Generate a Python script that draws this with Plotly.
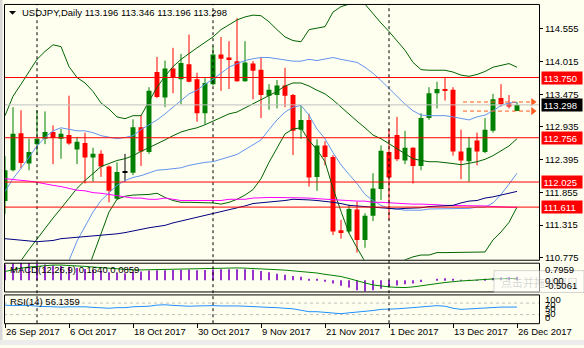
import plotly.graph_objects as go
import pandas as pd

W, H = 584, 348
BG = "#FFFFF0"
FONT = "Tahoma, 'Liberation Sans', Arial, sans-serif"
FS = 9.5

# Daily bars, 26 Sep - 26 Dec 2017 (no bar on 25 Dec)
dates = [d for d in pd.bdate_range("2017-09-26", "2017-12-26")
         if not (d.month == 12 and d.day == 25)]

open_ = [111.71, 112.22, 112.83, 112.33, 112.65, 112.74, 112.85, 112.74, 112.80, 112.56,
         112.67, 112.43, 112.49, 112.28, 111.75, 112.19, 112.18, 112.93, 112.52, 113.84,
         113.42, 113.90, 113.72, 113.97, 113.72, 113.16, 113.64, 114.13, 114.08, 114.02,
         113.69, 113.98, 113.88, 113.45, 113.46, 113.62, 113.46, 112.89, 113.05, 112.11,
         112.63, 112.44, 111.23, 111.21, 111.57, 111.07, 111.47, 111.91, 112.52, 112.80,
         112.38, 112.59, 112.29, 113.08, 113.49, 113.56, 113.55, 112.53, 112.37, 112.71,
         112.52, 112.87, 113.41, 113.32, 113.196]
high = [112.45, 113.26, 113.21, 112.74, 113.21, 113.19, 112.96, 112.90, 113.45, 112.77,
        112.84, 112.59, 112.55, 112.30, 112.35, 112.49, 113.06, 113.13, 113.59, 114.09,
        114.03, 114.24, 114.14, 114.46, 113.83, 113.74, 114.27, 114.42, 114.35, 114.73,
        114.35, 114.02, 114.09, 113.64, 113.71, 113.91, 113.48, 113.28, 113.15, 112.73,
        112.70, 112.47, 111.40, 111.65, 111.70, 111.51, 112.17, 112.63, 112.90, 113.10,
        112.87, 112.60, 113.16, 113.59, 113.68, 113.76, 113.59, 112.89, 112.77, 112.84,
        113.08, 113.48, 113.64, 113.46, 113.346]
low = [111.50, 112.20, 112.25, 112.22, 112.47, 112.65, 112.32, 112.41, 112.64, 112.32,
       112.00, 112.03, 112.11, 111.69, 111.73, 112.03, 112.14, 112.29, 112.49, 113.41,
       113.26, 113.49, 113.31, 113.67, 113.02, 112.98, 113.62, 113.53, 113.56, 113.68,
       113.68, 113.39, 113.08, 113.22, 113.24, 113.26, 112.47, 112.74, 111.95, 111.88,
       112.30, 111.15, 111.09, 111.18, 110.86, 110.94, 111.38, 111.73, 111.40, 112.37,
       112.32, 112.00, 112.22, 113.05, 113.24, 113.37, 112.46, 112.07, 112.03, 112.30,
       112.50, 112.84, 113.27, 113.24, 113.196]
close = [112.22, 112.82, 112.34, 112.52, 112.74, 112.85, 112.75, 112.82, 112.66, 112.69,
         112.43, 112.49, 112.28, 111.88, 112.19, 112.19, 112.93, 112.53, 113.53, 113.43,
         113.90, 113.75, 113.99, 113.68, 113.16, 113.66, 114.13, 114.06, 114.04, 113.69,
         114.00, 113.86, 113.46, 113.55, 113.62, 113.45, 112.87, 113.05, 112.10, 112.63,
         112.44, 111.21, 111.20, 111.58, 111.07, 111.47, 111.92, 112.54, 112.10, 112.40,
         112.59, 112.29, 113.08, 113.49, 113.56, 113.54, 112.53, 112.38, 112.59, 112.53,
         112.89, 113.39, 113.31, 113.27, 113.298]

# Bollinger bands (20): +/-2 dev and +/-1 dev around the middle line
bb_up2 = [113.12, 113.44, 113.64, 113.85, 114.05, 114.18, 114.29, 114.26, 113.93, 113.75,
          113.66, 113.52, 113.33, 113.23, 113.10, 113.07, 113.12, 113.12, 113.36, 113.59,
          113.77, 113.93, 114.05, 114.15, 114.24, 114.33, 114.42, 114.54, 114.62, 114.70,
          114.75, 114.78, 114.77, 114.67, 114.54, 114.42, 114.36, 114.34, 114.54, 114.57,
          114.59, 114.83, 114.92, 114.96, 114.98, 114.96, 114.80, 114.65, 114.51, 114.36,
          114.20, 114.00, 113.88, 113.87, 113.87, 113.87, 113.84, 113.79, 113.77, 113.80,
          113.85, 113.92, 113.95, 113.98, 113.92]
bb_mid = [110.35, 110.55, 110.73, 110.91, 111.09, 111.27, 111.43, 111.59, 111.76, 111.92,
          112.05, 112.17, 112.28, 112.33, 112.38, 112.41, 112.46, 112.53, 112.59, 112.66,
          112.72, 112.79, 112.85, 112.89, 112.92, 112.97, 113.03, 113.08, 113.15, 113.18,
          113.25, 113.31, 113.39, 113.46, 113.52, 113.61, 113.66, 113.66, 113.61, 113.54,
          113.48, 113.38, 113.26, 113.15, 113.03, 112.92, 112.80, 112.74, 112.66, 112.58,
          112.49, 112.41, 112.38, 112.36, 112.36, 112.35, 112.33, 112.31, 112.33, 112.36,
          112.40, 112.46, 112.54, 112.62, 112.74]
bb_lo2 = [107.59, 107.65, 107.81, 107.96, 108.12, 108.35, 108.57, 108.93, 109.58, 110.09,
          110.45, 110.81, 111.18, 111.53, 111.74, 111.79, 111.81, 111.81, 111.82, 111.84,
          111.77, 111.72, 111.69, 111.69, 111.69, 111.69, 111.68, 111.66, 111.69, 111.74,
          111.81, 111.90, 112.08, 112.35, 112.58, 112.82, 112.90, 112.92, 112.71, 112.56,
          112.36, 111.92, 111.54, 111.18, 110.94, 110.71, 110.58, 110.58, 110.61, 110.68,
          110.74, 110.79, 110.82, 110.82, 110.86, 110.86, 110.86, 110.86, 110.86, 110.87,
          110.87, 111.07, 111.20, 111.36, 111.61]
bb_up1 = [111.87, 112.08, 112.25, 112.43, 112.62, 112.76, 112.87, 112.92, 112.89, 112.87,
          112.87, 112.84, 112.79, 112.76, 112.74, 112.76, 112.79, 112.89, 112.97, 113.05,
          113.15, 113.26, 113.36, 113.48, 113.54, 113.64, 113.72, 113.82, 113.92, 113.98,
          114.03, 114.06, 114.08, 114.08, 114.06, 114.03, 114.02, 114.02, 114.05, 114.03,
          114.05, 114.08, 114.05, 114.03, 114.00, 113.92, 113.82, 113.70, 113.57, 113.44,
          113.31, 113.20, 113.13, 113.12, 113.12, 113.12, 113.10, 113.07, 113.05, 113.10,
          113.13, 113.20, 113.29, 113.33, 113.34]
bb_lo1 = [108.98, 109.11, 109.27, 109.43, 109.61, 109.81, 110.01, 110.27, 110.73, 111.05,
          111.30, 111.53, 111.72, 111.85, 111.97, 112.05, 112.10, 112.13, 112.18, 112.22,
          112.23, 112.25, 112.26, 112.30, 112.33, 112.35, 112.36, 112.40, 112.43, 112.48,
          112.56, 112.64, 112.72, 112.89, 113.05, 113.18, 113.26, 113.29, 113.13, 112.90,
          112.74, 112.51, 112.31, 112.15, 112.00, 111.82, 111.72, 111.64, 111.59, 111.58,
          111.56, 111.56, 111.56, 111.58, 111.58, 111.59, 111.59, 111.59, 111.59, 111.61,
          111.61, 111.68, 111.82, 111.99, 112.17]

# Long moving averages
ma_slow = [112.08, 112.07, 112.05, 112.04, 112.02, 111.99, 111.97, 111.95, 111.92, 111.89,
           111.88, 111.85, 111.84, 111.82, 111.79, 111.77, 111.76, 111.76, 111.74, 111.74,
           111.76, 111.74, 111.72, 111.72, 111.72, 111.72, 111.72, 111.72, 111.74, 111.74,
           111.74, 111.76, 111.77, 111.77, 111.77, 111.77, 111.76, 111.76, 111.76, 111.75,
           111.74, 111.74, 111.72, 111.71, 111.71, 111.71, 111.69, 111.69, 111.68, 111.68,
           111.67, 111.66, 111.66, 111.66, 111.65, 111.64, 111.64, 111.64, 111.63, 111.63,
           111.63, 111.62, 111.61, 111.61, 111.61]
ma_mid = [111.09, 111.08, 111.06, 111.05, 111.04, 111.05, 111.06, 111.09, 111.10, 111.12,
          111.13, 111.13, 111.14, 111.15, 111.17, 111.19, 111.22, 111.24, 111.27, 111.29,
          111.31, 111.35, 111.38, 111.41, 111.44, 111.47, 111.50, 111.54, 111.57, 111.60,
          111.63, 111.67, 111.68, 111.70, 111.71, 111.72, 111.74, 111.74, 111.73, 111.72,
          111.71, 111.69, 111.67, 111.64, 111.63, 111.62, 111.61, 111.59, 111.58, 111.58,
          111.59, 111.59, 111.60, 111.62, 111.63, 111.64, 111.64, 111.68, 111.71, 111.72,
          111.76, 111.78, 111.81, 111.84, 111.87]

# MACD(12,26,9): main histogram and signal line
macd = [0.72, 0.77, 0.7959, 0.78, 0.75, 0.72, 0.68, 0.65, 0.61, 0.56,
        0.51, 0.47, 0.43, 0.36, 0.33, 0.32, 0.38, 0.40, 0.44, 0.45,
        0.46, 0.47, 0.48, 0.49, 0.46, 0.47, 0.49, 0.50, 0.50, 0.50,
        0.50, 0.48, 0.42, 0.36, 0.30, 0.25, 0.20, 0.16, 0.06, 0.03,
        -0.02, -0.15, -0.25, -0.33, -0.45, -0.5061, -0.45, -0.38, -0.32, -0.24,
        -0.18, -0.15, -0.08, 0.00, 0.06, 0.09, 0.05, 0.02, 0.02, 0.02,
        0.05, 0.10, 0.14, 0.15, 0.1640]
signal = [0.40, 0.48, 0.55, 0.60, 0.64, 0.67, 0.69, 0.69, 0.68, 0.66,
          0.63, 0.60, 0.57, 0.53, 0.50, 0.47, 0.47, 0.47, 0.48, 0.49,
          0.50, 0.51, 0.52, 0.52, 0.52, 0.53, 0.53, 0.54, 0.55, 0.56,
          0.55, 0.54, 0.52, 0.50, 0.48, 0.46, 0.43, 0.41, 0.38, 0.33,
          0.27, 0.22, 0.17, 0.08, -0.03, -0.12, -0.21, -0.27, -0.30, -0.32,
          -0.33, -0.30, -0.26, -0.21, -0.15, -0.10, -0.05, -0.03, -0.01, 0.02,
          0.04, 0.06, 0.07, 0.08, 0.0859]

# RSI(14)
rsi = [63, 61, 62, 62, 59, 58, 55, 56, 57, 58,
       57, 55, 53, 52, 54, 54, 57, 58, 59, 63,
       64, 62, 60, 59, 60, 61, 61, 60, 61, 60,
       59, 57, 55, 55, 54, 53, 50, 45, 40, 40,
       38, 34, 33, 36, 38, 40, 44, 48, 48, 50,
       52, 54, 58, 60, 61, 59, 52, 48, 50, 51,
       52, 55, 56, 56, 56.1359]
rsi_levels = [70, 30]
rsi_scale = [100, 70, 50, 30, 0]

# Horizontal levels and axis ticks
levels = [113.750, 112.756, 112.025, 111.611]
bid = close[-1]
price_ticks = [114.555, 114.015, 113.475, 112.935, 112.395, 111.855, 111.315, 110.775]
label_idx = [0, 8, 16, 24, 32, 40, 48, 56, 64]

x = list(range(len(dates)))
n = len(x)

# --- pixel helpers for panel layout (paper coordinates) ---
def fx(px):
    return px / W

def fy(py):
    return 1 - py / H

PLOT_L, PLOT_R = 4, 539
MAIN_T, MAIN_B = 4, 262
MACD_T, MACD_B = 265, 294
RSI_T, RSI_B = 297, 326

# price range of the main pane (61.11 px per yen)
PPU = 61.11
y_top = price_ticks[0] + (29 - MAIN_T) / PPU
y_bot = price_ticks[0] - (MAIN_B - 29) / PPU

GREEN = "#008000"
RED = "#FF0000"
BAND2 = "#006400"
BAND1 = "#6495ED"

fig = go.Figure()

# ---- candles ----
MIN_BODY = 0.016
groups = {
    "up": ([i for i in x if close[i] > open_[i]], GREEN),
    "dn": ([i for i in x if close[i] < open_[i]], RED),
    "dj": ([i for i in x if close[i] == open_[i]], "#000000"),
}
for key, (idx, col) in groups.items():
    wx, wy = [], []
    for i in idx:
        wx += [i, i, None]
        wy += [low[i], high[i], None]
    fig.add_trace(go.Scatter(x=wx, y=wy, mode="lines", line=dict(color=col, width=1),
                             hoverinfo="skip", yaxis="y"))
    base, hgt = [], []
    for i in idx:
        b = abs(close[i] - open_[i])
        if b < MIN_BODY:
            base.append((open_[i] + close[i]) / 2 - MIN_BODY / 2)
            hgt.append(MIN_BODY)
        else:
            base.append(min(open_[i], close[i]))
            hgt.append(b)
    fig.add_trace(go.Bar(x=idx, y=hgt, base=base, width=0.62,
                         marker=dict(color=col, line=dict(width=0)),
                         hoverinfo="skip", yaxis="y"))

# ---- indicator lines on the price pane ----
for series, col in [(bb_up2, BAND2), (bb_mid, BAND2), (bb_lo2, BAND2),
                    (bb_up1, BAND1), (bb_lo1, BAND1),
                    (ma_slow, "#FF00FF"), (ma_mid, "#000080")]:
    fig.add_trace(go.Scatter(x=x, y=series, mode="lines", line=dict(color=col, width=1),
                             hoverinfo="skip", yaxis="y"))

# ---- MACD pane ----
fig.add_trace(go.Bar(x=x, y=macd, width=0.18, marker=dict(color="#9932CC", line=dict(width=0)),
                     hoverinfo="skip", yaxis="y2"))
fig.add_trace(go.Scatter(x=x, y=signal, mode="lines", line=dict(color=GREEN, width=1),
                         hoverinfo="skip", yaxis="y2"))

# ---- RSI pane ----
fig.add_trace(go.Scatter(x=x, y=rsi, mode="lines", line=dict(color="#1E90FF", width=1),
                         hoverinfo="skip", yaxis="y3"))

# ---- high / low arrows of the current bar ----
ARROW = "#FF5A1F"
arrow_x0, arrow_x1 = 57.25, 66.0
fig.add_trace(go.Scatter(x=[arrow_x1, arrow_x1], y=[high[-1], low[-1]], mode="markers",
                         marker=dict(symbol="triangle-right", size=7, color=ARROW),
                         hoverinfo="skip", yaxis="y"))

shapes = []
# window frame strips
shapes.append(dict(type="rect", xref="paper", yref="paper", x0=0, x1=fx(2.5), y0=0, y1=1,
                   fillcolor="#D8D8D8", line=dict(width=0), layer="below"))
shapes.append(dict(type="rect", xref="paper", yref="paper", x0=0, x1=1, y0=0, y1=fy(343),
                   fillcolor="#ECECEC", line=dict(width=0), layer="below"))

# month separators
for i in x[1:]:
    if dates[i].month != dates[i - 1].month:
        shapes.append(dict(type="line", xref="x", yref="paper", x0=i, x1=i,
                           y0=fy(RSI_B), y1=fy(MAIN_T),
                           line=dict(color="#000000", width=1, dash="3px,3px")))

# bid line and red levels
shapes.append(dict(type="line", xref="paper", yref="y", x0=fx(PLOT_L), x1=fx(PLOT_R),
                   y0=bid, y1=bid, line=dict(color="#C0C0C0", width=1)))
for lv in levels:
    shapes.append(dict(type="line", xref="paper", yref="y", x0=fx(PLOT_L), x1=fx(PLOT_R),
                       y0=lv, y1=lv, line=dict(color=RED, width=1)))

# dashed high/low lines
for v in (high[-1], low[-1]):
    shapes.append(dict(type="line", xref="x", yref="y", x0=arrow_x0, x1=arrow_x1 - 0.2,
                       y0=v, y1=v, line=dict(color=ARROW, width=1, dash="4px,3px")))

# RSI levels
for lv in rsi_levels:
    shapes.append(dict(type="line", xref="paper", yref="y3", x0=fx(PLOT_L), x1=fx(PLOT_R),
                       y0=lv, y1=lv, line=dict(color="#C0C0C0", width=1, dash="3px,3px")))

# pane borders
for t, b in [(MAIN_T, MAIN_B), (MACD_T, MACD_B), (RSI_T, RSI_B)]:
    shapes.append(dict(type="rect", xref="paper", yref="paper",
                       x0=fx(PLOT_L + 0.5), x1=fx(PLOT_R + 0.5), y0=fy(b + 0.5), y1=fy(t + 0.5),
                       line=dict(color="#000000", width=1), fillcolor="rgba(0,0,0,0)"))

# faded tooltip window over the MACD scale
shapes.append(dict(type="rect", xref="paper", yref="paper", x0=fx(494), x1=fx(584),
                   y0=fy(295), y1=fy(273), fillcolor="rgba(255,255,255,0.55)",
                   line=dict(color="rgba(170,170,170,0.5)", width=1)))

# header triangle
shapes.append(dict(type="path", xref="paper", yref="paper",
                   path=f"M {fx(9)} {fy(11)} L {fx(16)} {fy(11)} L {fx(12.5)} {fy(15)} Z",
                   fillcolor="#000000", line=dict(width=0)))

ann = []
def text(xp, yp, s, color="#000000", anchor="left", size=FS, family=FONT):
    ann.append(dict(xref="paper", yref="paper", x=fx(xp), y=fy(yp), text=s, showarrow=False,
                    xanchor=anchor, yanchor="middle", font=dict(family=family, size=size, color=color)))

ann.append(dict(xref="paper", yref="paper", x=fx(499), y=fy(284), text="点击并拖动窗口",
                showarrow=False, xanchor="left", yanchor="middle",
                font=dict(family="Noto Sans CJK SC", size=11, color="rgba(160,160,160,0.45)")))

text(20, 13, f"USDJPY,Daily {open_[-1]:.3f} {high[-1]:.3f} {low[-1]:.3f} {close[-1]:.3f}")
text(8, 272, f"MACD(12,26,9) {macd[-1]:.4f} {signal[-1]:.4f}")
text(8, 304, f"RSI(14) {rsi[-1]:.4f}")

# MACD scale labels
text(543, 287.5, f"{min(macd):.4f}")
text(543, 272, f"{max(macd):.4f}")
text(543, 283, "0.00")

# RSI scale labels
for v, yp in zip(rsi_scale, [302, 307, 311, 316, 320]):
    text(543, yp, f"{v}")

# price boxes on the right scale
for lv, bg in [(lv, RED) for lv in levels] + [(bid, "#000000")]:
    ann.append(dict(xref="paper", yref="y", x=fx(541), y=lv, text=f"{lv:.3f}", showarrow=False,
                    xanchor="left", yanchor="middle", align="left", width=37, height=9,
                    borderpad=1.5, bgcolor=bg,
                    font=dict(family=FONT, size=FS, color="#FFFFFF")))

# date labels
for i in label_idx:
    d = dates[i]
    ann.append(dict(xref="x", yref="paper", x=i, y=fy(334.5), text=f"{d.day} {d.strftime('%b')} {d.year}",
                    showarrow=False, xanchor="left", yanchor="middle", xshift=-1,
                    font=dict(family=FONT, size=FS, color="#000000")))

fig.update_layout(
    width=W, height=H, margin=dict(l=0, r=0, t=0, b=0),
    paper_bgcolor=BG, plot_bgcolor=BG, showlegend=False, barmode="overlay",
    font=dict(family=FONT, size=FS, color="#000000"),
    xaxis=dict(domain=[fx(PLOT_L), fx(PLOT_R)], range=[-0.125, 66.75], anchor="y3",
               showgrid=False, zeroline=False, showline=False, tickmode="array",
               tickvals=label_idx, ticks="outside", ticklen=4, tickcolor="#000000",
               showticklabels=False, fixedrange=True),
    yaxis=dict(domain=[fy(MAIN_B), fy(MAIN_T)], range=[y_bot, y_top], side="right", anchor="x",
               tickmode="array", tickvals=price_ticks, ticktext=[f"{v:.3f}" for v in price_ticks],
               ticks="outside", ticklen=3, tickcolor="#000000", showgrid=False, zeroline=False,
               showline=False, tickfont=dict(family=FONT, size=FS, color="#000000")),
    yaxis2=dict(domain=[fy(MACD_B), fy(MACD_T)], range=[min(macd), max(macd)], side="right",
                anchor="x", showgrid=False, zeroline=False, showline=False, showticklabels=False),
    yaxis3=dict(domain=[fy(RSI_B), fy(RSI_T)], range=[0, 100], side="right", anchor="x",
                showgrid=False, zeroline=False, showline=False, showticklabels=False),
    shapes=shapes, annotations=ann,
)

fig.write_html("out.html", config={"displayModeBar": False})
